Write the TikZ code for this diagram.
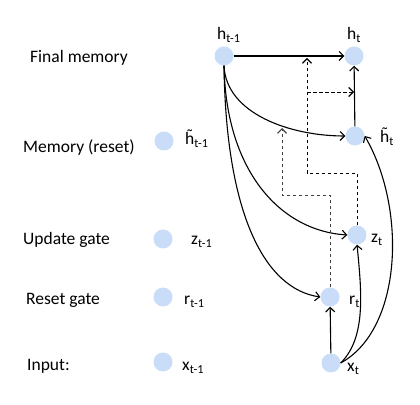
\documentclass[tikz,border=0pt]{standalone}
\usepackage{fontspec}
\setmainfont{Carlito}
\usetikzlibrary{arrows.meta}
\definecolor{unitblue}{RGB}{201,220,248}
\newcommand{\htil}{\accent"02DC h}
\tikzset{
  unit/.style={circle,fill=unitblue,minimum size=19pt,inner sep=0pt},
  gate/.style={anchor=base west,inner sep=0pt,font=\fontsize{17.5}{20}\selectfont},
  lbl/.style={anchor=base west,inner sep=0pt,font=\fontsize{17.5}{20}\selectfont},
  arr/.style={line width=1.1pt,-{Straight Barb[length=4.5pt,width=9pt,line width=1.1pt]}},
  dsh/.style={arr,dash pattern=on 3.5pt off 2.5pt,line width=0.9pt}
}
\begin{document}
\begin{tikzpicture}[x=1pt,y=1pt]
  \useasboundingbox (0,0) rectangle (420,404);

  % Row names
  \node[gate] (nfin) at (30,341) {Final memory};
  \node[gate] (nmem) at (23,251) {Memory (reset)};
  \node[gate] (nupd) at (23,159) {Update gate};
  \node[gate] (nres) at (26,99) {Reset gate};
  \node[gate] (ninp) at (27,33) {Input:};

  % Units at step t-1
  \node[unit] (hp) at (224,348) {};
  \node[unit] (hcp) at (164,263) {};
  \node[unit] (zp) at (163,165) {};
  \node[unit] (rp) at (163,107) {};
  \node[unit] (xp) at (163,42) {};

  % Units at step t
  \node[unit] (ht) at (354,348) {};
  \node[unit] (hct) at (355,268) {};
  \node[unit] (zt) at (357,169) {};
  \node[unit] (rt) at (330,107) {};
  \node[unit] (xt) at (331,41) {};

  % Unit labels
  \node[lbl] (lhp) at (217,364) {h\textsubscript{t-1}};
  \node[lbl] (lhcp) at (185,259) {\htil\textsubscript{t-1}};
  \node[lbl] (lzp) at (191,159) {z\textsubscript{t-1}};
  \node[lbl] (lrp) at (184,99) {r\textsubscript{t-1}};
  \node[lbl] (lxp) at (182,33) {x\textsubscript{t-1}};
  \node[lbl] (lht) at (347,364) {h\textsubscript{t}};
  \node[lbl] (lhct) at (380,261) {\htil\textsubscript{t}};
  \node[lbl] (lzt) at (371,161) {z\textsubscript{t}};
  \node[lbl] (lrt) at (349,99) {r\textsubscript{t}};
  \node[lbl] (lxt) at (347,32) {x\textsubscript{t}};

  % Connections from h_{t-1}
  \draw[arr] (hp) -- (ht);
  \draw[arr] (hp.south) .. controls +(2,-48) and +(-55,0) .. (hct.west);
  \draw[arr] (hp.south) .. controls +(2,-108) and +(-65,4) .. (zt.west);
  \draw[arr] (hp.south) .. controls +(2,-150) and +(-55,8) .. (rt.west);

  % Connections from x_t
  \draw[arr] (xt) -- (rt);
  \draw[arr] (xt.east) .. controls +(25,25) and +(5,-50) .. (zt.south);
  \draw[arr] (xt.east) .. controls +(62,34) and +(42,-72) .. (hct.east);

  % Candidate to final memory
  \draw[arr] (hct) -- (ht);

  % Gate signals
  \coordinate (rg) at (282,276);
  \coordinate (zg) at (307,346);
  \coordinate (zs) at (307,312);
  \coordinate (zb) at (354,312);
  \draw[dsh,black!75] (rt.north) |- (282,209) -- (rg);
  \draw[dsh] (zt.north) |- (307,231) -- (zg);
  \draw[dsh] (zs) -- (zb);
\end{tikzpicture}
\end{document}
